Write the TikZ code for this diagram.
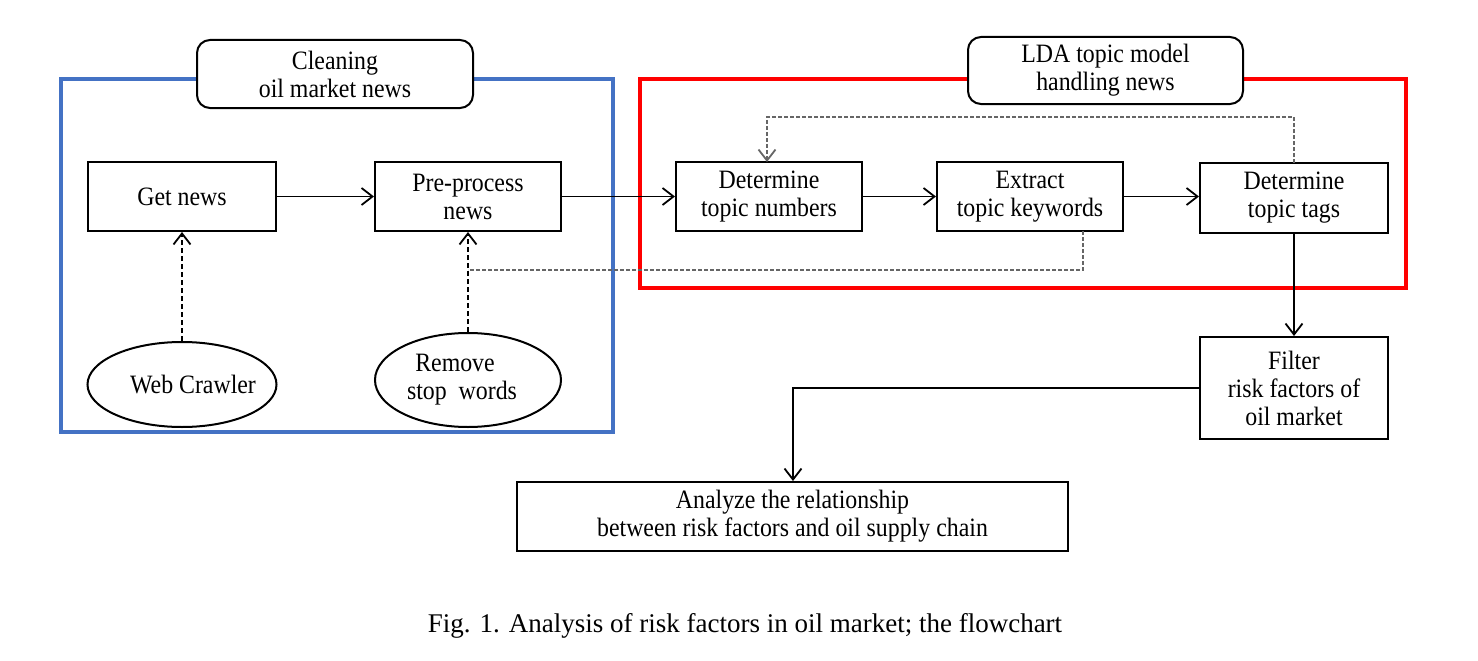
\documentclass[tikz,border=0pt]{standalone}
\usepackage{fontspec}
\setmainfont{Liberation Serif}
\newfontfamily\boxfont[FakeStretch=0.9]{Liberation Serif}
\usetikzlibrary{arrows.meta,shapes.geometric,calc}
\begin{document}
\begin{tikzpicture}[x=1pt,y=-1pt,
  every node/.style={font=\boxfont\fontsize{26.5}{28}\selectfont, inner sep=0pt, align=center},
  procbox/.style={draw=black, line width=2pt, rectangle, minimum height=69pt},
  ellbox/.style={draw=black, line width=2pt, ellipse},
  titlebox/.style={draw=black, line width=2pt, rounded corners=13pt, fill=white},
  flow/.style={line width=1.8pt, -{Straight Barb[length=11pt,width=17pt,line width=1.8pt]}},
  dflow/.style={line width=1.6pt, dash pattern=on 5pt off 3pt, -{Straight Barb[length=11pt,width=17pt,line width=1.8pt]}},
  gflow/.style={line width=2.2pt, draw=black!60, dash pattern=on 4pt off 2pt},
  frame/.style={line width=3.5pt}
]
\useasboundingbox (0,0) rectangle (1478,661);
\definecolor{fblue}{RGB}{68,114,196}
\definecolor{fred}{RGB}{255,0,0}

% frames
\draw[frame, draw=fblue] (61,79) rectangle (613,432);
\draw[frame, draw=fred] (640,79) rectangle (1406,288);

% titles
\node[titlebox, minimum width=276pt, minimum height=68pt] (t1) at (335,74) {Cleaning\\oil market news};
\node[titlebox, minimum width=275pt, minimum height=67pt] (t2) at (1105.5,70.5) {LDA topic model\\handling news};

% process boxes
\node[procbox, minimum width=188pt] (get) at (182,196.5) {Get news};
\node[procbox, minimum width=186pt] (pre) at (468,196.5) {Pre-process\\news};
\node[procbox, minimum width=186pt] (dnum) at (769,196.5) {Determine\\topic numbers};
\node[procbox, minimum width=186pt] (ext) at (1030,196.5) {Extract\\topic keywords};
\node[procbox, minimum width=188pt, minimum height=70pt] (dtag) at (1294,198) {Determine\\topic tags};
\node[procbox, minimum width=188pt, minimum height=102pt] (filt) at (1294,388) {Filter\\risk factors of\\oil market};
\node[procbox, minimum width=551pt] (ana) at (792.5,516.5) {Analyze the relationship\\between risk factors and oil supply chain};

% ellipses
\node[ellbox, minimum width=189pt, minimum height=85pt] (web) at (182,384.5) {};
\node (webt) at (193,384.5) {Web Crawler};
\node[ellbox, minimum width=186pt, minimum height=94pt] (rem) at (468,380) {};
\node (remt) at (462,380) {\hspace*{-14pt}Remove\\stop\ \ words};

% coordinates
\coordinate (ekb) at (1083,231);
\coordinate (ekl) at (1083,270);
\coordinate (prl) at (468,270);
\coordinate (dtt) at (1294,163);
\coordinate (fbr) at (1294,117);
\coordinate (fbl) at (767,117);
\coordinate (dnt) at (767,162);
\coordinate (fl) at (793,388);

% connectors
\draw[flow] (get.east) -- (pre.west);
\draw[flow] (pre.east) -- (dnum.west);
\draw[flow] (dnum.east) -- (ext.west);
\draw[flow] (ext.east) -- (ext.east -| dtag.west);
\draw[flow] (dtag.south) -- (filt.north);
\draw[flow] (filt.west) -- (fl) -- (ana.north -| fl);
\draw[dflow] (web.north) -- (get.south);
\draw[dflow] (rem.north) -- (pre.south);
\draw[gflow] (ekb) -- (ekl) -- (prl);
\draw[gflow, -{Straight Barb[length=11pt,width=17pt,line width=1.8pt]}] (dtt) -- (fbr) -- (fbl) -- (dnt);

% caption
\node[font=\rmfamily\fontsize{27}{32}\selectfont] (cap) at (745,626) {Fig. 1. Analysis of risk factors in oil market; the flowchart};
\end{tikzpicture}
\end{document}
